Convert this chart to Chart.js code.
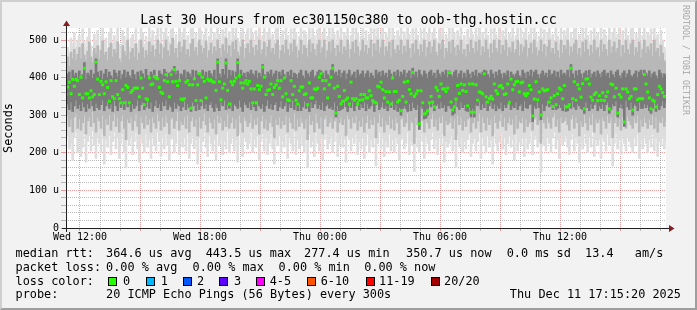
<!DOCTYPE html>
<html><head><meta charset="utf-8">
<script src="https://cdn.jsdelivr.net/npm/chart.js@4/dist/chart.umd.min.js"></script>
<style>
html,body{margin:0;padding:0;background:#f2f2f2;}
#wrap{position:relative;width:697px;height:310px;background:#f2f2f2;overflow:hidden;font-family:"DejaVu Sans Mono",monospace;color:#000;}
#frame{position:absolute;left:0;top:0;width:697px;height:310px;box-sizing:border-box;border-top:2px solid #cfcfcf;border-left:2px solid #cfcfcf;border-right:2px solid #9e9e9e;border-bottom:2px solid #9e9e9e;pointer-events:none;}
canvas{position:absolute;left:0;top:0;}
.t{position:absolute;white-space:pre;}
.lg{font-size:11.85px;line-height:11.85px;}
.box{position:absolute;width:7px;height:7px;border:1px solid #000;top:277px;}
</style></head><body>
<div id="wrap">
<canvas id="c" width="697" height="310"></canvas>
<div class="t" id="title" style="left:0;width:697px;text-align:center;top:13px;font-size:13.3px;line-height:13.3px;"></div>
<div class="t" id="ytitle" style="left:3.3px;top:178px;width:100px;text-align:center;font-size:11.85px;line-height:11.85px;transform-origin:0 0;transform:rotate(-90deg);"></div>
<div class="t" id="wm" style="left:690px;top:5px;font-size:8.3px;line-height:8.3px;color:#a8a8a8;transform-origin:0 0;transform:rotate(90deg);"></div>
<div id="legend"></div>
<div id="frame"></div>
</div>
<script>
// ---------------- data ----------------
const titleText = 'Last 30 Hours from ec301150c380 to oob-thg.hostin.cc';
const yAxisTitle = 'Seconds';
const watermark = 'RRDTOOL / TOBI OETIKER';

const yTickValues = [0, 100, 200, 300, 400, 500];
const yTickLabels = ['0', '100 u', '200 u', '300 u', '400 u', '500 u'];
const xTickHours = [12, 18, 24, 30, 36];           // hours since Wed 00:00
const xTickLabels = ['Wed 12:00', 'Wed 18:00', 'Thu 00:00', 'Thu 06:00', 'Thu 12:00'];

// median rtt (microseconds), one value per 5-minute step
const median = [
355,375,388,357,395,377,395,392,355,401,346,425,357,357,346,365,349,355,441,396,
355,390,381,357,389,374,337,392,349,344,392,355,344,333,368,333,379,374,333,361,
366,372,372,372,349,399,372,328,344,341,399,381,383,403,399,397,374,361,
358,392,408,389,349,408,389,421,390,379,392,343,341,344,388,392,381,319,381,397,
339,381,410,339,401,390,346,396,392,394,389,388,366,441,389,341,372,383,439,366,
330,389,381,390,399,440,405,386,372,386,392,383,390,370,333,370,333,379,368,377,
428,401,355,366,368,383,355,374,381,392,372,392,349,399,357,341,339,392,355,377,
340,330,365,375,375,355,357,328,386,346,346,370,368,372,401,410,392,370,392,346,
381,401,425,372,306,377,350,330,337,366,341,346,330,388,344,340,344,330,340,355,341,
355,346,346,365,352,339,335,333,377,375,388,368,346,363,335,362,330,399,363,363,
335,340,312,350,388,335,390,368,357,414,350,357,365,277,365,333,303,306,312,333,
350,335,322,374,366,350,383,370,370,363,372,413,335,314,322,343,379,358,383,366,381,
363,325,383,308,383,308,381,340,362,360,357,410,349,335,344,350,343,383,365,357,
377,379,372,355,357,383,333,396,368,381,389,390,362,386,388,357,352,358,379,368,
298,343,389,341,362,301,370,365,366,368,335,346,323,352,328,357,372,368,344,379,322,
323,328,425,344,389,340,381,370,348,384,317,396,397,383,348,340,355,360,339,352,
340,360,339,350,362,317,383,381,349,372,306,355,348,370,282,370,362,344,350,314,
370,370,341,344,344,344,408,383,362,346,317,340,337,322,355,377,370,360,350,350
];
// smoke: fastest / slowest ping of each step
const smokeMin = [
230,245,210,225,180,240,255,200,235,190,215,250,175,230,245,205,260,220,185,240,
225,200,250,170,235,215,245,195,230,255,210,240,185,225,250,200,160,235,220,245,
195,230,255,210,175,240,225,200,250,215,235,185,245,220,205,255,230,190,240,210,
250,220,180,235,245,200,225,260,195,230,215,240,205,250,185,225,245,210,235,170,
240,200,230,255,215,190,245,225,205,235,180,250,220,240,195,230,210,255,200,225,
245,205,235,175,250,220,190,240,230,210,225,255,200,235,215,245,180,230,250,205,
240,195,225,250,210,170,235,220,245,200,230,215,250,185,240,225,205,255,195,235,
210,245,220,200,235,160,250,215,230,190,255,225,205,240,180,235,250,210,225,245,
200,230,255,190,220,245,215,235,175,250,235,205,240,225,250,195,230,210,245,185,
220,250,200,235,215,240,165,225,255,210,245,190,230,215,250,205,235,200,240,225,
180,235,245,210,225,255,195,230,220,150,240,215,200,250,230,185,245,225,205,235,
255,210,235,195,240,220,250,175,230,215,225,245,205,235,160,250,215,240,200,230,
210,235,250,190,225,245,205,230,255,185,240,220,200,245,215,235,170,250,225,205,
230,255,210,240,195,225,245,215,235,180,250,205,230,220,245,190,240,210,225,255,
195,235,245,215,230,150,250,220,205,240,225,200,240,255,210,235,185,245,220,230,
245,215,195,235,250,205,240,225,175,230,210,250,225,200,240,215,255,190,235,220,
235,185,245,230,205,250,220,240,165,225,250,210,235,195,245,225,205,240,230,215,
200,240,220,250,185,235,210,245,225,200,235,215,250,205,240,190,230,220,245,210,230
];
const smokeMax = [
470,480,462,505,490,520,478,500,512,488,530,495,476,508,540,485,470,515,498,525,
482,510,540,495,505,478,520,535,490,512,500,540,488,470,525,510,495,540,482,505,
515,490,530,478,500,540,520,488,510,495,540,505,525,490,512,540,498,530,485,520,
540,510,495,528,540,500,515,488,535,505,520,540,498,512,490,530,540,505,518,495,
540,525,500,515,540,488,510,532,498,520,505,540,515,492,528,510,540,500,522,490,
535,512,540,505,495,520,540,488,515,530,500,540,518,495,525,510,540,498,512,535,
490,520,540,505,515,498,530,540,485,510,525,500,540,512,495,530,505,540,520,488,
510,540,498,525,515,490,540,505,530,512,495,528,540,500,518,540,488,510,535,505,
540,515,492,525,505,540,498,520,510,540,488,512,535,500,540,520,495,510,540,505,
525,498,515,540,490,530,510,540,502,518,540,495,520,508,535,490,540,512,500,525,
510,540,498,522,505,540,515,488,530,500,540,512,495,528,505,540,490,518,535,500,
520,540,505,495,530,512,540,488,515,505,535,500,540,518,495,525,510,540,498,512,
490,528,505,540,515,500,535,510,540,495,520,505,540,512,488,530,500,540,515,505,
540,498,525,510,540,492,518,505,535,500,512,540,495,528,505,520,540,490,515,532,
500,540,518,495,510,540,505,528,490,520,540,505,515,498,535,510,488,540,500,525,
512,540,495,520,505,530,540,498,515,490,535,505,540,512,495,525,500,540,510,518,
490,540,505,528,512,495,540,500,520,535,505,515,540,490,525,500,540,512,498,530,
540,495,518,505,535,488,512,540,500,520,510,530,495,540,505,515,490,525,500,480,470
];
// smoke: 4th fastest / 4th slowest ping
const midLo = [
285,300,270,290,255,295,305,265,290,260,280,300,250,285,295,270,310,280,255,295,
285,265,300,245,290,275,300,260,285,305,270,295,255,285,300,265,235,290,280,295,
260,285,305,270,250,295,280,265,300,275,290,255,295,280,265,305,285,260,295,270,
300,280,250,290,295,265,285,310,260,285,275,295,265,300,255,285,295,270,290,245,
295,265,285,305,275,255,295,280,265,290,250,300,280,295,260,285,270,305,265,280,
295,265,290,245,300,280,255,295,285,270,280,305,265,290,275,295,250,285,300,265,
290,260,280,300,270,240,290,275,295,265,285,275,300,255,295,280,265,305,260,290,
270,295,280,265,290,235,300,275,285,255,305,280,265,295,250,290,300,270,280,295,
265,285,305,255,280,295,275,290,245,300,290,265,295,280,300,260,285,270,295,255,
280,300,265,290,275,295,240,280,305,270,295,255,285,275,300,265,290,260,295,280,
250,290,295,270,280,305,260,285,280,225,295,275,265,300,285,255,295,280,265,290,
305,270,290,260,295,280,300,245,285,275,280,295,265,290,235,300,275,295,260,285,
270,290,300,255,280,295,265,285,305,255,295,280,260,295,275,290,245,300,280,265,
285,305,270,295,260,280,295,275,290,250,300,265,285,280,295,255,290,270,280,305,
260,290,295,275,285,225,300,280,265,295,280,265,295,305,270,290,255,295,280,285,
295,275,260,290,300,265,295,280,245,285,270,300,280,260,295,275,305,255,290,280,
290,250,295,285,265,300,280,295,240,280,300,270,290,260,295,280,265,295,285,275,
265,295,280,300,255,290,270,295,280,265,290,275,300,265,295,255,285,280,295,270,285
];
const midHi = [
440,455,430,468,450,475,445,462,480,450,490,460,445,470,495,455,440,478,465,485,
450,472,498,460,468,445,480,492,455,475,465,495,450,440,485,470,458,500,448,468,
478,455,490,445,465,500,480,452,472,460,495,468,485,455,475,500,462,490,450,480,
500,472,458,488,505,465,478,452,495,468,482,500,462,475,455,490,502,470,480,458,
500,485,465,478,498,452,472,492,462,482,470,500,478,455,488,472,505,465,485,455,
495,475,500,468,458,482,500,452,478,490,465,500,480,458,486,472,500,462,475,495,
455,482,500,468,478,462,490,500,450,472,486,465,500,475,458,490,468,500,482,452,
472,500,462,486,478,455,500,468,490,475,458,488,500,465,480,500,452,472,495,468,
500,478,456,486,468,500,462,482,472,500,452,475,495,465,500,482,458,472,500,468,
486,462,478,500,455,490,472,500,465,480,500,458,482,470,495,455,500,475,465,486,
472,500,462,484,468,500,478,452,490,465,500,475,458,488,468,500,455,480,495,465,
482,500,468,458,490,475,500,452,478,468,495,465,500,480,458,486,472,500,462,475,
455,488,468,500,478,465,495,472,500,458,482,468,500,475,452,490,465,500,478,468,
500,462,486,472,500,456,480,468,495,465,475,500,458,488,468,482,500,455,478,492,
465,500,480,458,472,500,468,488,455,482,500,468,478,462,495,472,452,500,465,486,
475,500,458,482,468,490,500,462,478,455,495,468,500,475,458,486,465,500,472,480,
455,500,468,488,475,458,500,465,482,495,468,478,500,455,486,465,500,475,462,490,
500,458,480,468,495,452,475,500,465,482,472,490,458,500,468,478,455,486,465,445,440
];
// smoke: 8th fastest / 8th slowest ping
const coreLo = [
320,330,315,335,310,325,340,318,328,312,335,322,310,330,318,340,325,312,332,320,
315,328,340,312,325,335,318,330,310,338,325,312,335,320,330,315,340,322,328,310,
330,318,325,340,312,328,335,315,322,338,318,335,310,325,340,320,330,312,335,325,
340,315,328,322,310,335,318,330,325,312,322,338,315,330,320,310,335,325,312,330,
315,325,340,318,330,312,328,335,320,310,330,320,312,335,325,340,315,328,318,335,
312,330,325,318,340,322,310,335,328,320,335,315,330,322,312,338,325,318,330,310,
325,340,318,330,315,328,335,312,322,338,318,325,335,310,330,320,340,315,328,312,
330,312,322,338,318,325,310,335,320,330,340,318,328,315,335,312,325,330,318,322,
315,335,295,325,312,315,318,340,322,310,328,320,335,312,325,338,315,330,320,335,
312,330,318,325,340,310,328,335,315,322,335,318,325,312,330,320,338,315,328,310,
320,300,318,325,318,310,330,312,335,320,315,328,262,325,318,290,292,300,330,322,
338,312,325,330,318,335,320,328,310,325,325,318,300,305,340,322,315,335,320,328,
312,310,322,295,318,295,328,325,338,315,330,320,338,312,325,335,318,330,312,325,
318,335,312,328,320,330,340,315,325,320,335,315,325,330,312,338,320,318,328,330,
283,325,318,335,320,288,330,312,325,338,322,330,315,325,315,318,328,320,312,330,
310,312,325,318,338,322,315,330,325,318,315,305,335,320,312,330,318,328,335,312,
325,318,330,312,328,335,305,315,330,325,338,295,320,330,318,270,340,322,315,335,
300,330,325,312,335,318,318,330,320,328,312,305,318,335,310,330,315,325,338,320,335
];
const coreHi = [
400,410,415,395,420,405,412,398,418,402,408,440,395,412,405,420,398,410,450,415,
402,418,395,410,422,400,415,405,398,420,412,402,418,395,408,420,400,415,405,398,
420,408,395,415,402,418,410,398,422,405,398,415,408,420,402,395,418,410,405,422,
415,400,412,415,420,430,408,418,395,410,405,420,398,415,410,402,420,395,418,408,
412,398,420,405,415,400,418,410,402,420,395,450,410,400,422,408,450,398,420,405,
418,402,415,450,398,420,405,412,400,415,410,420,410,405,418,398,412,402,435,408,
400,415,408,420,402,410,418,395,415,405,420,408,398,415,405,420,400,412,408,398,
412,420,405,398,418,410,402,415,420,400,405,415,420,418,412,398,418,408,402,420,
435,410,415,405,420,400,412,418,395,410,420,402,408,415,398,420,405,410,418,400,
410,418,400,412,405,398,420,408,415,402,418,405,412,400,420,410,398,415,405,420,
402,415,408,420,400,412,418,398,425,405,415,400,420,408,402,418,410,398,415,420,
405,412,398,420,410,402,415,408,420,400,418,408,402,415,420,400,410,418,398,412,
400,420,410,398,415,405,420,402,412,408,415,420,418,408,400,420,410,398,415,405,
420,410,398,412,405,418,400,415,408,402,410,418,405,400,420,412,398,415,405,420,
402,415,420,408,398,410,418,405,412,400,420,405,410,418,402,415,400,420,408,412,
405,420,400,435,410,398,418,405,420,410,398,412,418,405,420,400,410,415,402,418,
410,400,415,420,405,412,398,418,408,400,415,420,405,398,412,418,400,410,420,405,
402,410,418,400,415,420,408,420,412,405,418,400,410,415,405,398,420,412,400,410,405
];

// legend texts
const statLine1 = ['median rtt:', '364.6 us avg', '443.5 us max', '277.4 us min', '350.7 us now', '0.0 ms sd', '13.4', 'am/s'];
const statLine2 = ['packet loss:', '0.00 % avg', '0.00 % max', '0.00 % min', '0.00 % now'];
const lossTitle = 'loss color:';
const lossLabels = ['0', '1', '2', '3', '4-5', '6-10', '11-19', '20/20'];
const lossColors = ['#26ff00', '#00b8ff', '#0059ff', '#5e00ff', '#ff00ff', '#ff5500', '#ff0000', '#a10000'];
const probeLine = ['probe:', '20 ICMP Echo Pings (56 Bytes) every 300s'];
const stampText = 'Thu Dec 11 17:15:20 2025';

// ---------------- layout ----------------
const startHour = 11.3, stepHours = 5 / 60, spanHours = 30;
const line1X = [15.5, 106, 205.7, 304, 406, 506.7, 585, 634.8];
const line2X = [15.5, 106, 192.5, 278.5, 364.2];
const boxX = [108, 145.5, 182.5, 219, 256, 307, 365.5, 430.5];
const boxTextX = [123, 160.7, 197, 234, 269.7, 320.7, 379, 444];
const lineTops = [248.3, 261.7, 275.7, 289.3];

document.getElementById('title').textContent = titleText;
document.getElementById('ytitle').textContent = yAxisTitle;
document.getElementById('wm').textContent = watermark;

const lg = document.getElementById('legend');
function addText(txt, x, top, extra) {
  const d = document.createElement('div');
  d.className = 't lg';
  d.textContent = txt;
  d.style.left = x + 'px';
  d.style.top = top + 'px';
  if (extra) Object.assign(d.style, extra);
  lg.appendChild(d);
}
statLine1.forEach((t, i) => addText(t, line1X[i], lineTops[0]));
statLine2.forEach((t, i) => addText(t, line2X[i], lineTops[1]));
addText(lossTitle, 15.5, lineTops[2]);
lossLabels.forEach((t, i) => {
  const b = document.createElement('div');
  b.className = 'box';
  b.style.left = boxX[i] + 'px';
  b.style.background = lossColors[i];
  lg.appendChild(b);
  addText(t, boxTextX[i], lineTops[2]);
});
addText(probeLine[0], 15.5, lineTops[3]);
addText(probeLine[1], 106, lineTops[3]);
addText(stampText, 0, lineTops[3], {left: 'auto', right: (697 - 681) + 'px'});

// ---------------- chart ----------------
const MINOR = 'rgba(143,143,143,0.6)';
const MAJOR = 'rgba(222,79,79,0.55)';
const xs = median.map((_, i) => startHour + i * stepHours);
const band = (a, b) => xs.map((x, i) => ({x: x, y: [a[i], b[i]]}));
const smoke = (a, b, color, order) => ({
  type: 'bar', data: band(a, b), backgroundColor: color, borderWidth: 0,
  grouped: false, barThickness: 2, order: order
});
const hourGrid = [];
for (let h = Math.ceil(startHour); h <= startHour + spanHours; h++) hourGrid.push(h);
const yGrid = [];
for (let v = 0; v <= 520; v += 20) yGrid.push(v);
const mono = 'DejaVu Sans Mono';

const framePlugin = {
  id: 'rrdframe',
  beforeDraw(chart) {
    const {ctx, chartArea: a} = chart;
    ctx.save();
    ctx.fillStyle = '#ffffff';
    ctx.fillRect(a.left, a.top, a.right - a.left, a.bottom - a.top);
    ctx.restore();
  },
  afterDraw(chart) {
    const {ctx, chartArea: a} = chart;
    const y0 = a.bottom + 0.5, x0 = a.left + 0.5;
    ctx.save();
    ctx.strokeStyle = '#1f1f1f';
    ctx.lineWidth = 1;
    ctx.beginPath();
    ctx.moveTo(a.left - 4, y0); ctx.lineTo(a.right + 3, y0);
    ctx.moveTo(x0, a.bottom + 4); ctx.lineTo(x0, a.top - 2);
    ctx.stroke();
    ctx.fillStyle = '#7f1f1f';
    ctx.beginPath();
    ctx.moveTo(a.right + 3, y0 - 3.5); ctx.lineTo(a.right + 8.5, y0); ctx.lineTo(a.right + 3, y0 + 3.5);
    ctx.closePath(); ctx.fill();
    ctx.beginPath();
    ctx.moveTo(x0 - 3.5, a.top - 2); ctx.lineTo(x0, a.top - 7.5); ctx.lineTo(x0 + 3.5, a.top - 2);
    ctx.closePath(); ctx.fill();
    ctx.restore();
  }
};

new Chart(document.getElementById('c'), {
  type: 'bar',
  data: {
    datasets: [
      {type: 'line', data: xs.map((x, i) => ({x: x, y: median[i]})), showLine: false,
       pointStyle: 'rect', pointRadius: 2.1, pointBackgroundColor: '#26ff00',
       pointBorderWidth: 0, pointHoverRadius: 2.1, order: 0},
      smoke(coreLo, coreHi, '#7a7a7a', 1),
      smoke(midLo, midHi, '#b8b8b8', 2),
      smoke(smokeMin, smokeMax, '#dddddd', 3)
    ]
  },
  options: {
    responsive: false, animation: false, devicePixelRatio: 1,
    layout: {padding: {left: 0, right: 31, top: 28, bottom: 0}},
    plugins: {legend: {display: false}, tooltip: {enabled: false}, title: {display: false}},
    events: [],
    scales: {
      x: {
        type: 'linear', min: startHour, max: startHour + spanHours, offset: false, z: 1,
        afterBuildTicks: s => { s.ticks = hourGrid.map(v => ({value: v})); },
        afterFit: s => { s.height = 82; },
        grid: {offset: false, lineWidth: 1, drawTicks: true, tickLength: 3,
               color: c => (c.tick && c.tick.value % 3 === 0) ? MAJOR : MINOR},
        border: {display: false, dash: [1, 1]},
        ticks: {autoSkip: false, maxRotation: 0, minRotation: 0, padding: 0, color: '#000',
                font: {family: mono, size: 10},
                callback: v => { const k = xTickHours.indexOf(v); return k >= 0 ? xTickLabels[k] : ''; }}
      },
      y: {
        type: 'linear', min: 0, max: 532, z: 1,
        afterBuildTicks: s => { s.ticks = yGrid.map(v => ({value: v})); },
        afterFit: s => { s.width = 66; },
        grid: {lineWidth: 1, drawTicks: true, tickLength: 5,
               color: c => (c.tick && c.tick.value % 100 === 0) ? MAJOR : MINOR},
        border: {display: false, dash: [1, 1]},
        ticks: {autoSkip: false, padding: 2, color: '#000', font: {family: mono, size: 10},
                callback: v => { const k = yTickValues.indexOf(v); return k >= 0 ? yTickLabels[k] : ''; }}
      }
    }
  },
  plugins: [framePlugin]
});
</script>
</body></html>
